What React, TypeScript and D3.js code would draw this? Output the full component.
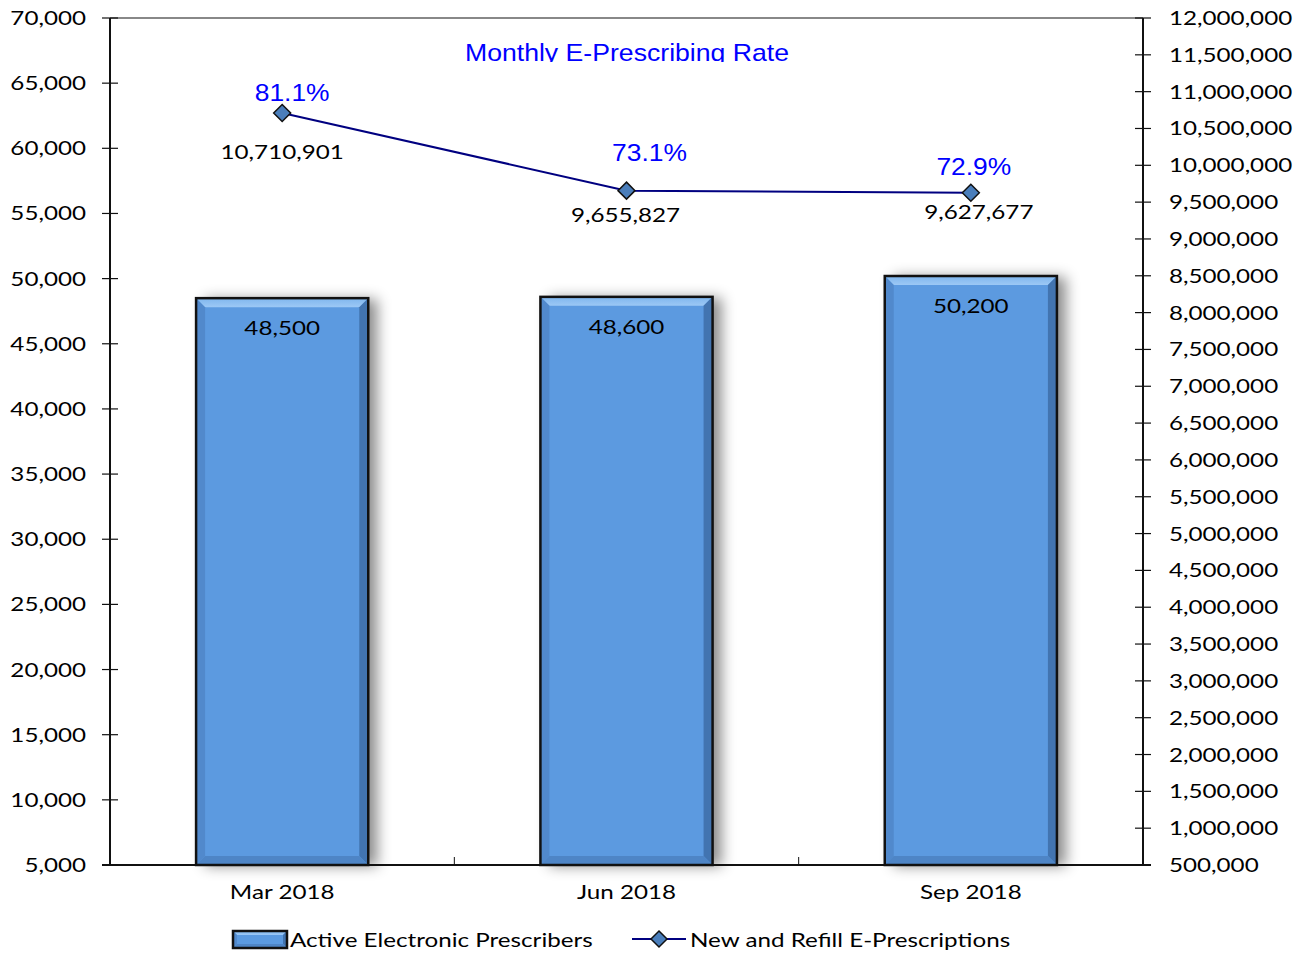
import React from "react";
import * as d3 from "d3";

const categories = ["Mar 2018", "Jun 2018", "Sep 2018"];
const prescribers = [48500, 48600, 50200];
const ePrescriptions = [10710901, 9655827, 9627677];
const rateLabels = ["81.1%", "73.1%", "72.9%"];
const leftTicks = d3.range(5000, 70001, 5000);
const rightTicks = d3.range(500000, 12000001, 500000);

const W = 1297, H = 953;
const M = { left: 110, right: 1143, top: 18, bottom: 865 };
const FONT = "Lato, 'Open Sans', sans-serif";
const ARIAL = "'Liberation Sans', Arial, sans-serif";
const FS = 20;
const SX = 1.21;

// label offsets relative to points (dx, dy)
const rateOffsets = [[10, -12], [23, -30], [3, -18]];
const valueOffsets = [[0, 46], [-1, 31], [8, 26]];

type TP = { x: number; y: number; anchor?: string; size?: number; sx?: number; family?: string; fill?: string; children: React.ReactNode; clip?: string };
const T = ({ x, y, anchor = "start", size = FS, sx = SX, family = FONT, fill = "#000", children, clip }: TP) => (
  <g clipPath={clip}>
    <text transform={`translate(${x},${y}) scale(${sx},1)`} textAnchor={anchor} fontFamily={family} fontSize={size} fill={fill}>
      {children}
    </text>
  </g>
);

export default function App() {
  const x = d3.scaleBand<string>().domain(categories).range([M.left, M.right]).paddingInner(0.5).paddingOuter(0.25);
  const xc = (c: string) => (x(c) as number) + x.bandwidth() / 2;
  const yL = d3.scaleLinear().domain([5000, 70000]).range([M.bottom, M.top]);
  const yR = d3.scaleLinear().domain([500000, 12000000]).range([M.bottom, M.top]);
  const fmt = d3.format(",");
  const line = d3.line<number>().x((_, i) => xc(categories[i])).y((d) => yR(d));
  const bw = x.bandwidth();
  const bev = 9;

  const Bar = ({ x0, y0, w, h, b, shadow = true }: { x0: number; y0: number; w: number; h: number; b: number; shadow?: boolean }) => (
    <g>
      <rect x={x0} y={y0} width={w} height={h} fill="#5b9ae0" filter={shadow ? "url(#shadow)" : undefined} />
      <polygon points={`${x0},${y0} ${x0 + w},${y0} ${x0 + w - b},${y0 + b} ${x0 + b},${y0 + b}`} fill="url(#bevTop)" />
      <polygon points={`${x0},${y0} ${x0 + b},${y0 + b} ${x0 + b},${y0 + h - b} ${x0},${y0 + h}`} fill="#5189cc" />
      <polygon points={`${x0 + w},${y0} ${x0 + w - b},${y0 + b} ${x0 + w - b},${y0 + h - b} ${x0 + w},${y0 + h}`} fill="#4274b0" />
      <polygon points={`${x0},${y0 + h} ${x0 + b},${y0 + h - b} ${x0 + w - b},${y0 + h - b} ${x0 + w},${y0 + h}`} fill="#4e85c6" />
      <rect x={x0} y={y0} width={w} height={h} fill="none" stroke="#111" strokeWidth={2.5} />
    </g>
  );

  const diamond = (cx: number, cy: number, r: number) =>
    `M${cx},${cy - r}L${cx + r},${cy}L${cx},${cy + r}L${cx - r},${cy}Z`;

  return (
    <svg width={W} height={H} style={{ position: "absolute", left: 0, top: 0, background: "#fff" }}>
      <defs>
        <filter id="shadow" x="-20%" y="-10%" width="150%" height="130%">
          <feDropShadow dx="9" dy="1" stdDeviation="7" floodColor="#000" floodOpacity="0.45" />
        </filter>
        <linearGradient id="bevTop" x1="0" y1="0" x2="0" y2="1">
          <stop offset="0" stopColor="#7fb6ee" />
          <stop offset="1" stopColor="#9cc8f5" />
        </linearGradient>
        <clipPath id="titleClip">
          <rect x={0} y={0} width={W} height={62} />
        </clipPath>
      </defs>

      {/* top border */}
      <line x1={M.left} x2={M.right} y1={M.top} y2={M.top} stroke="#888" strokeWidth={2} />

      {/* bars */}
      {categories.map((c, i) => (
        <Bar key={c} x0={x(c) as number} y0={yL(prescribers[i])} w={bw} h={M.bottom - yL(prescribers[i])} b={bev} />
      ))}
      {categories.map((c, i) => (
        <T key={c} x={xc(c)} y={yL(prescribers[i]) + 37} anchor="middle">{fmt(prescribers[i])}</T>
      ))}

      {/* axes */}
      <line x1={M.left} x2={M.left} y1={M.top} y2={M.bottom} stroke="#111" strokeWidth={2} />
      <line x1={M.right} x2={M.right} y1={M.top} y2={M.bottom} stroke="#111" strokeWidth={2} />
      <line x1={M.left - 8} x2={M.right + 8} y1={M.bottom} y2={M.bottom} stroke="#111" strokeWidth={2} />
      {leftTicks.map((t) => (
        <g key={t}>
          <line x1={M.left - 8} x2={M.left + 8} y1={yL(t)} y2={yL(t)} stroke="#111" strokeWidth={1.2} />
          <T x={86} y={yL(t) + 7} anchor="end">{fmt(t)}</T>
        </g>
      ))}
      {rightTicks.map((t) => (
        <g key={t}>
          <line x1={M.right - 8} x2={M.right + 8} y1={yR(t)} y2={yR(t)} stroke="#111" strokeWidth={1.2} />
          <T x={1169} y={yR(t) + 7} anchor="start">{fmt(t)}</T>
        </g>
      ))}
      {[1, 2].map((i) => {
        const bx = M.left + ((M.right - M.left) / 3) * i;
        return <line key={i} x1={bx} x2={bx} y1={M.bottom} y2={M.bottom - 8} stroke="#111" strokeWidth={1} />;
      })}
      {categories.map((c) => (
        <T key={c} x={xc(c)} y={899} anchor="middle">{c}</T>
      ))}

      {/* title */}
      <T x={627} y={61} anchor="middle" family={ARIAL} size={24} sx={1.11} fill="#0000ff" clip="url(#titleClip)">
        Monthly E-Prescribing Rate
      </T>

      {/* line */}
      <path d={line(ePrescriptions) as string} fill="none" stroke="#000080" strokeWidth={2} />
      {categories.map((c, i) => (
        <path key={c} d={diamond(xc(c), yR(ePrescriptions[i]), 8.5)} fill="#4a7ebb" stroke="#111" strokeWidth={1.5} />
      ))}
      {categories.map((c, i) => (
        <T key={"r" + c} x={xc(c) + rateOffsets[i][0]} y={yR(ePrescriptions[i]) + rateOffsets[i][1]} anchor="middle" family={ARIAL} size={24} sx={1.1} fill="#0000ff">
          {rateLabels[i]}
        </T>
      ))}
      {categories.map((c, i) => (
        <T key={"v" + c} x={xc(c) + valueOffsets[i][0]} y={yR(ePrescriptions[i]) + valueOffsets[i][1]} anchor="middle">
          {fmt(ePrescriptions[i])}
        </T>
      ))}

      {/* legend */}
      <Bar x0={233} y0={931} w={54} h={17} b={4} shadow={false} />
      <T x={290} y={947}>Active Electronic Prescribers</T>
      <line x1={632} x2={686} y1={939} y2={939} stroke="#000080" strokeWidth={2} />
      <path d={diamond(659, 939, 8)} fill="#4a7ebb" stroke="#111" strokeWidth={1.5} />
      <T x={690} y={947}>New and Refill E-Prescriptions</T>
    </svg>
  );
}
